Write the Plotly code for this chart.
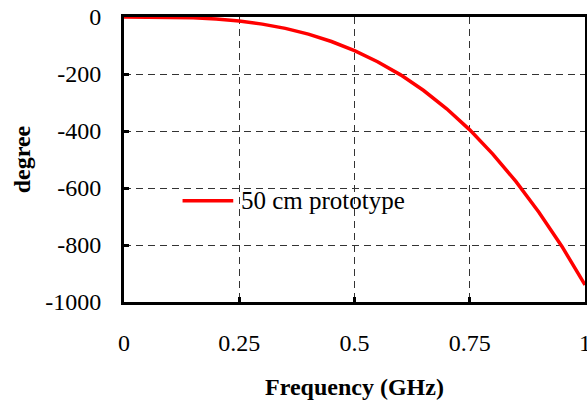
import plotly.graph_objects as go

freq_ghz = [0, 0.05, 0.1, 0.15, 0.2, 0.25, 0.3, 0.35, 0.4, 0.45, 0.5,
            0.55, 0.6, 0.65, 0.7, 0.75, 0.8, 0.85, 0.9, 0.95, 1.0]
phase_deg = [0, 0, -1, -3, -7, -14, -25, -40, -60, -86, -118,
             -157, -203, -258, -322, -396, -481, -577, -685, -805, -940]
series_name = "50 cm prototype"

x_tickvals = [0, 0.25, 0.5, 0.75, 1]
x_ticktext = ["0", "0.25", "0.5", "0.75", "1"]
y_tickvals = [0, -200, -400, -600, -800, -1000]
y_ticktext = ["0", "-200", "-400", "-600", "-800", "-1000"]

FONT = "Liberation Serif"

fig = go.Figure()
fig.add_trace(go.Scatter(x=freq_ghz, y=phase_deg, mode="lines", name=series_name,
                         line=dict(color="#FF0000", width=3.5), showlegend=False))

grid = dict(showgrid=True, gridcolor="#333333", gridwidth=1, griddash="7px,5px",
            zeroline=False, showline=True, linecolor="black", linewidth=3, mirror=True,
            ticks="inside", ticklen=5, tickwidth=3, tickcolor="black", automargin=False,
            ticklabeloverflow="allow",
            tickfont=dict(family=FONT, size=24, color="black"))

fig.update_xaxes(range=[0, 1], tickvals=x_tickvals, ticktext=x_ticktext,
                 ticklabelstandoff=17,
                 title=dict(text="<b>Frequency (GHz)</b>", font=dict(family=FONT, size=24, color="black"),
                            standoff=24),
                 **grid)
fig.update_yaxes(range=[-1000, 0], tickvals=y_tickvals, ticktext=y_ticktext,
                 ticklabelstandoff=15,
                 title=dict(text="<b>degree</b>", font=dict(family=FONT, size=24, color="black"),
                            standoff=8),
                 **grid)

# legend sample drawn manually
fig.add_shape(type="line", xref="paper", yref="paper", x0=0.127, x1=0.237, y0=0.355, y1=0.355,
              line=dict(color="#FF0000", width=3.5))
fig.add_annotation(xref="paper", yref="paper", x=0.249, y=0.355, xanchor="left", yanchor="middle",
                   text=series_name, showarrow=False,
                   font=dict(family=FONT, size=25, color="black"))

fig.update_layout(width=587, height=403, margin=dict(l=124, r=2, t=17, b=101),
                  paper_bgcolor="white", plot_bgcolor="white", showlegend=False)

fig.write_html("out.html", config={"displayModeBar": False},
               post_script="document.body.style.margin='0';document.body.style.overflow='hidden';")
